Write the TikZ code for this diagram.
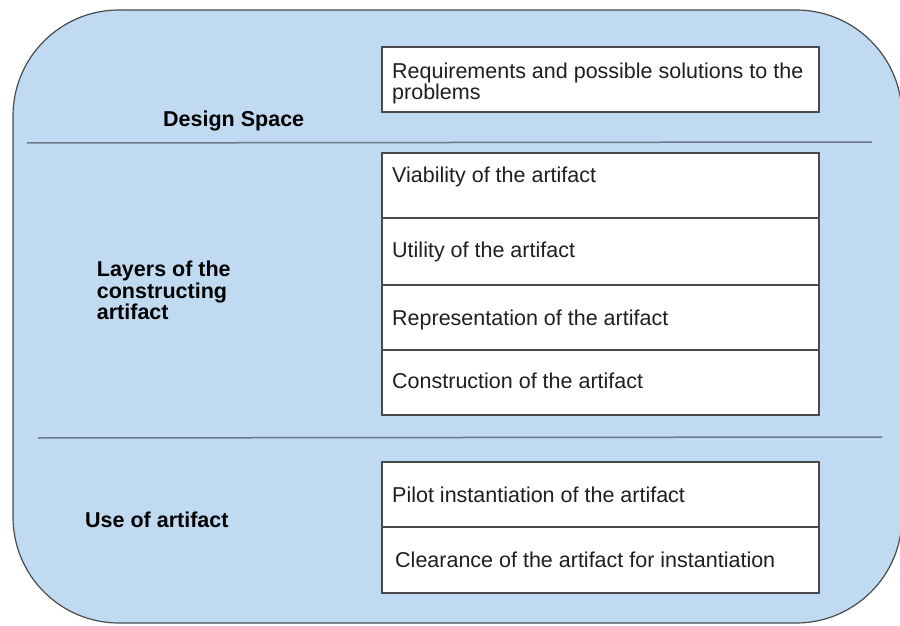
\documentclass[tikz,border=0pt]{standalone}
\usepackage{fontspec}
\setmainfont{Liberation Sans}
\definecolor{panel}{HTML}{C0DBF1}
\definecolor{edge}{HTML}{4A4A4A}
\definecolor{rulecol}{HTML}{6B7886}
\begin{document}
\begin{tikzpicture}[x=1pt,y=-1pt,
  rowbox/.style={draw=edge, line width=1.2pt, fill=white, minimum width=437pt, inner sep=0pt, rectangle},
  lbl/.style={anchor=base west, inner sep=0pt, font=\fontsize{21.5}{21.5}\selectfont, text=black!88, align=left},
  head/.style={anchor=base west, inner sep=0pt, font=\fontsize{21.5}{21.5}\selectfont\bfseries, text=black, align=left},
  divider/.style={draw=rulecol, line width=1.5pt}]
\useasboundingbox (0,0) rectangle (900,626);
\draw[fill=panel, draw=edge, line width=1.2pt, rounded corners=106pt] (13,10) rectangle (902,623);
% dividers
\coordinate (d1a) at (27,143);
\coordinate (d1b) at (872,142);
\coordinate (d2a) at (38,438);
\coordinate (d2b) at (882,437);
\draw[divider] (d1a) -- (d1b);
\draw[divider] (d2a) -- (d2b);
% boxes
\node[rowbox, minimum height=65pt] (req) at (600.5,79.5) {};
\node[rowbox, minimum height=65pt] (via) at (600.5,185.5) {};
\node[rowbox, minimum height=67pt] (uti) at (600.5,251.5) {};
\node[rowbox, minimum height=65pt] (rep) at (600.5,317.5) {};
\node[rowbox, minimum height=65pt] (con) at (600.5,382.5) {};
\node[rowbox, minimum height=65pt] (pil) at (600.5,494.5) {};
\node[rowbox, minimum height=66pt] (clr) at (600.5,560) {};
% box texts
\node[lbl] (treq) at (392,99.5) {Requirements and possible solutions to the\\problems};
\node[lbl] (tvia) at (392,182) {Viability of the artifact};
\node[lbl] (tuti) at (392,257) {Utility of the artifact};
\node[lbl] (trep) at (392,325) {Representation of the artifact};
\node[lbl] (tcon) at (392,388) {Construction of the artifact};
\node[lbl] (tpil) at (392,502) {Pilot instantiation of the artifact};
\node[lbl] (tclr) at (395,567.5) {Clearance of the artifact for instantiation};
% section headings
\node[head] (hds) at (163,126.7) {Design Space};
\node[head] (hlc) at (96.7,319.5) {Layers of the\\constructing\\artifact};
\node[head] (hua) at (85,527) {Use of artifact};
\end{tikzpicture}
\end{document}
